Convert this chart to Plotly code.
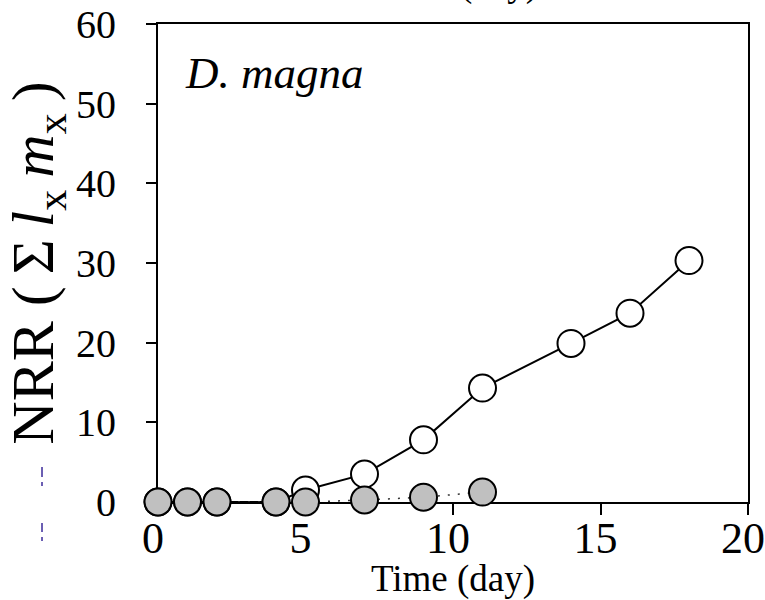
import plotly.graph_objects as go

# Net reproductive rate of D. magna over time
time_open = [0, 1, 2, 4, 5, 7, 9, 11, 14, 16, 18]
nrr_open = [0, 0, 0, 0, 1.5, 3.5, 7.8, 14.3, 19.9, 23.7, 30.3]

time_grey = [0, 1, 2, 4, 5, 7, 9, 11]
nrr_grey = [0, 0, 0, 0, 0, 0.25, 0.6, 1.25]

x_ticks = [0, 5, 10, 15, 20]
y_ticks = [0, 10, 20, 30, 40, 50, 60]

SERIF = "Liberation Serif, Times New Roman, serif"
THIN = "\u2009"

fig = go.Figure()

fig.add_trace(go.Scatter(
    x=time_open, y=nrr_open, mode="lines+markers",
    line=dict(color="black", width=2),
    marker=dict(size=27, color="white", line=dict(color="black", width=2)),
    cliponaxis=False, showlegend=False,
))

fig.add_trace(go.Scatter(
    x=time_grey, y=nrr_grey, mode="lines+markers",
    line=dict(color="#333333", width=1.5, dash="2px,8px"),
    marker=dict(size=27, color="#c0c0c0", line=dict(color="black", width=2)),
    cliponaxis=False, showlegend=False,
))

axis_common = dict(
    showline=True, linecolor="black", linewidth=2, mirror=True,
    ticks="outside", tickcolor="black", tickwidth=2,
    showgrid=False, zeroline=False, layer="below traces",
    automargin=False, ticklabeloverflow="allow",
)

fig.update_xaxes(
    range=[0, 20], tickvals=x_ticks, ticklen=11,
    tickfont=dict(family=SERIF, size=44, color="black"),
    ticklabelshift=-5, ticklabelstandoff=-15,
    title=dict(text="Time (day)", font=dict(family=SERIF, size=37, color="black"),
               standoff=0),
    **axis_common,
)

y_title = ("NRR (" + THIN + "Σ" + THIN + "<i>l</i><sub>x</sub>" + THIN
           + "<i>m</i><sub>x</sub>" + THIN + ")" + THIN)
fig.update_yaxes(
    range=[0, 60], tickvals=y_ticks, ticklen=10,
    tickfont=dict(family=SERIF, size=40, color="black"),
    ticklabelstandoff=22,
    title=dict(text=y_title,
               font=dict(family=SERIF, size=60, color="black"), standoff=8),
    **axis_common,
)

fig.add_annotation(
    x=0.85, y=53.8, xref="x", yref="y", xanchor="left", yanchor="middle",
    text="<i>D. magna</i>", showarrow=False,
    font=dict(family=SERIF, size=45, color="black"),
)

# Axis title of the panel above, cut by the page edge
fig.add_annotation(
    x=0.505, y=1.036, xref="paper", yref="paper", xanchor="center", yanchor="bottom",
    text="Time (day)", showarrow=False,
    font=dict(family=SERIF, size=37, color="black"),
)

# Small stray marks left of the axis
for y0, y1 in [(0.0732, 0.0523), (0.0418, 0.0335), (-0.0439, -0.0628), (-0.0732, -0.0816)]:
    fig.add_shape(type="line", xref="paper", yref="paper",
                  x0=-0.1966, x1=-0.1966, y0=y0, y1=y1,
                  line=dict(color="#3a2a9a", width=1.5))

fig.update_layout(
    width=765, height=600,
    margin=dict(l=158, r=17, t=24, b=98),
    paper_bgcolor="white", plot_bgcolor="white",
)

fig.write_html("out.html")
